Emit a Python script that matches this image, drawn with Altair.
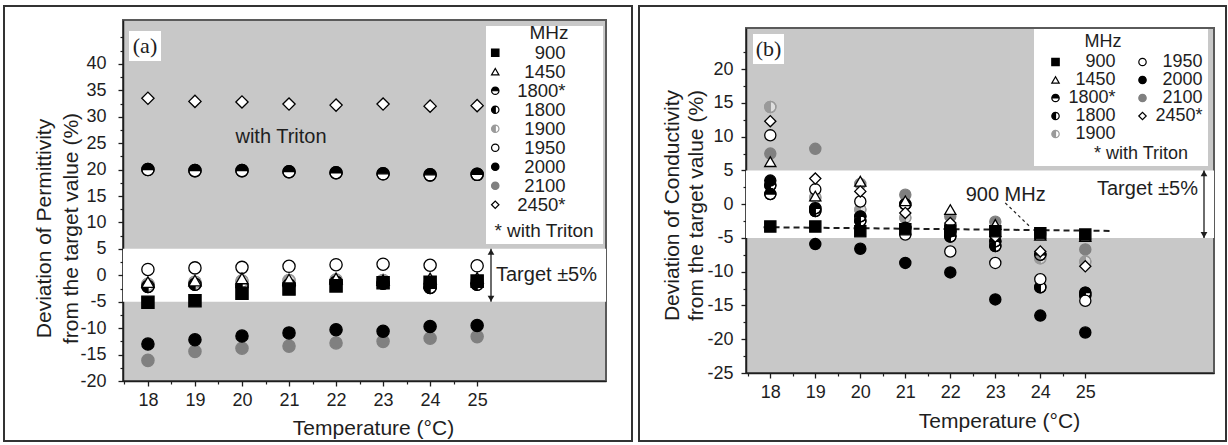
import altair as alt
import pandas as pd

FONT = "Liberation Sans"
SERIF = "Liberation Serif"
INK = "#1e1e1e"

temps = [18, 19, 20, 21, 22, 23, 24, 25]
freqs = ["900", "1450", "1800*", "1800", "1900", "1950", "2000", "2100", "2450*"]
x_minor = [17.5, 18.5, 19.5, 20.5, 21.5, 22.5, 23.5, 24.5]

# (a) deviation of permittivity from the target value (%)
perm_900 = [-5.1, -4.8, -3.4, -2.6, -2.0, -1.4, -1.3, -1.1]
perm_1450 = [-1.3, -1.0, -0.6, -0.8, -0.6, -0.9, -0.6, -0.5]
perm_1800s = [20.0, 19.8, 19.8, 19.6, 19.4, 19.2, 19.0, 19.1]
perm_1800 = [-2.1, -1.7, -2.0, -1.8, -1.3, -1.5, -2.3, -1.7]
perm_1900 = [-1.7, -1.3, -1.1, -1.0, -0.9, -1.0, -1.4, -1.2]
perm_1950 = [1.1, 1.4, 1.5, 1.7, 2.0, 2.1, 1.9, 1.8]
perm_2000 = [-13.0, -12.2, -11.5, -10.9, -10.3, -10.6, -9.7, -9.5]
perm_2100 = [-16.1, -14.4, -13.8, -13.4, -12.8, -12.5, -11.9, -11.6]
perm_2450s = [33.5, 32.9, 32.8, 32.4, 32.2, 32.4, 32.0, 32.1]

# (b) deviation of conductivity from the target value (%)
cond_900 = [-3.3, -3.3, -4.0, -3.7, -3.9, -4.0, -4.3, -4.5]
cond_1450 = [6.3, 1.2, 3.4, 0.5, -0.8, -3.0, -4.6, -4.8]
cond_1800s = [1.5, -0.6, -1.8, 0.0, -4.0, -5.5, -7.5, -13.1]
cond_1800 = [2.8, -1.0, -2.5, -3.5, -4.8, -6.2, -12.3, -13.5]
cond_1900 = [14.4, 1.0, -0.8, -2.0, -3.2, -3.5, -8.0, -8.5]
cond_1950 = [10.2, 2.2, 0.4, -4.5, -7.0, -8.7, -11.1, -14.3]
cond_2000 = [3.5, -5.9, -6.6, -8.7, -10.1, -14.1, -16.5, -19.0]
cond_2100 = [7.5, 8.2, 3.0, 1.4, -1.8, -2.6, -4.4, -6.7]
cond_2450s = [12.3, 3.8, 1.9, -1.3, -2.8, -4.8, -7.0, -9.2]

# 900 MHz trend line in (b) and its label leader
fit_x = [17.85, 25.55]
fit_y = [-3.4, -3.95]
lead_x = [23.22, 23.75]
lead_y = [0.2, -3.2]

perm = dict(zip(freqs, [perm_900, perm_1450, perm_1800s, perm_1800, perm_1900,
                        perm_1950, perm_2000, perm_2100, perm_2450s]))
cond = dict(zip(freqs, [cond_900, cond_1450, cond_1800s, cond_1800, cond_1900,
                        cond_1950, cond_2000, cond_2100, cond_2450s]))

HALF_TOP = "M -1 0 A 1 1 0 0 1 1 0 Z M 1 0 A 1 1 0 0 1 -1 0 A 1 1 0 0 0 1 0"
HALF_LEFT = "M 0 -1 A 1 1 0 0 0 0 1 Z M 0 1 A 1 1 0 0 0 0 -1 A 1 1 0 0 1 0 1"
shape_of = {"900": "square", "1450": "triangle-up", "1800*": HALF_TOP, "1800": HALF_LEFT,
            "1900": HALF_LEFT, "1950": "circle", "2000": "circle", "2100": "circle",
            "2450*": "diamond"}
fill_of = {"900": "black", "1450": "white", "1800*": "black", "1800": "black",
           "1900": "#9a9a9a", "1950": "white", "2000": "black", "2100": "#808080",
           "2450*": "white"}
stroke_of = {"900": "black", "1450": "black", "1800*": "black", "1800": "black",
             "1900": "#9a9a9a", "1950": "black", "2000": "black", "2100": "#808080",
             "2450*": "black"}
base_of = {"1800*": ("white", "black"), "1800": ("white", "black"),
           "1900": ("#dedede", "#9a9a9a")}
draw_order = ["2100", "2000", "1900", "1800", "1800*", "1950", "1450", "2450*", "900"]


def long_df(series, tag):
    rows = []
    for f in draw_order:
        for t, v in zip(temps, series[f]):
            rows.append({"temp": t, "value": v, tag: f})
    return pd.DataFrame(rows)


def base_df(series):
    rows = []
    for f in ["1900", "1800", "1800*"]:
        for t, v in zip(temps, series[f]):
            rows.append({"temp": t, "value": v, "bf": base_of[f][0], "bs": base_of[f][1]})
    return pd.DataFrame(rows)


def panel(series, P):
    xs = alt.Scale(domain=P["xdom"], nice=False, zero=False)
    ys = alt.Scale(domain=P["ydom"], nice=False, zero=False)
    W, H = P["w"], P["h"]
    one = pd.DataFrame({"k": [0]})
    fs = P["fs"]

    fx0, fx1, fy0, fy1 = P["frame"]
    frame = alt.Chart(one).mark_rect(fillOpacity=0, stroke="#333333", strokeWidth=2).encode(
        x=alt.value(fx0), x2=alt.value(fx1), y=alt.value(fy0), y2=alt.value(fy1))

    band = alt.Chart(pd.DataFrame({"lo": [-5], "hi": [5]})).mark_rect(color="white").encode(
        x=alt.value(0), x2=alt.value(W),
        y=alt.Y("lo:Q", scale=ys, axis=None), y2="hi:Q")

    bx0, bx1, by0, by1 = P["legbox"]
    legbox = alt.Chart(one).mark_rect(color="white").encode(
        x=alt.value(bx0), x2=alt.value(bx1), y=alt.value(by0), y2=alt.value(by1))

    lx0, lx1, ly0, ly1 = P["tagbox"]
    tagbox = alt.Chart(one).mark_rect(color="white").encode(
        x=alt.value(lx0), x2=alt.value(lx1), y=alt.value(ly0), y2=alt.value(ly1))
    tag = alt.Chart(one).mark_text(text=P["tag"], font=SERIF, fontSize=22, color=INK).encode(
        x=alt.value((lx0 + lx1) / 2), y=alt.value((ly0 + ly1) / 2))

    mhz = alt.Chart(one).mark_text(text="MHz", font=FONT, fontSize=fs, color=INK).encode(
        x=alt.value(P["mhz"][0]), y=alt.value(P["mhz"][1]))
    trit = alt.Chart(one).mark_text(text="* with Triton", font=FONT, fontSize=fs, color=INK).encode(
        x=alt.value(P["trit"][0]), y=alt.value(P["trit"][1]))

    ax = P["arrow_x"]
    arr_df = pd.DataFrame({"lo": [-5], "hi": [5]})
    arrow = alt.Chart(arr_df).mark_rule(color=INK, strokeWidth=1.3).encode(
        x=alt.value(ax), y=alt.Y("lo:Q", scale=ys, axis=None), y2="hi:Q")
    head_up = alt.Chart(pd.DataFrame({"v": [5]})).mark_point(
        shape="triangle-up", filled=True, color=INK, size=45, yOffset=3, opacity=1).encode(
        x=alt.value(ax), y=alt.Y("v:Q", scale=ys, axis=None))
    head_dn = alt.Chart(pd.DataFrame({"v": [-5]})).mark_point(
        shape="triangle-down", filled=True, color=INK, size=45, yOffset=-3, opacity=1).encode(
        x=alt.value(ax), y=alt.Y("v:Q", scale=ys, axis=None))
    tx, ty, talign = P["target"]
    target = alt.Chart(pd.DataFrame({"v": [ty]})).mark_text(
        text="Target \u00b15%", font=FONT, fontSize=20, color=INK, align=talign).encode(
        x=alt.value(tx), y=alt.Y("v:Q", scale=ys, axis=None))

    ann_layers = []
    for (txt, axv, ayv) in P["notes"]:
        ann_layers.append(alt.Chart(pd.DataFrame({"x": [axv], "y": [ayv]})).mark_text(
            text=txt, font=FONT, fontSize=20, color=INK).encode(
            x=alt.X("x:Q", scale=xs, axis=None), y=alt.Y("y:Q", scale=ys, axis=None)))

    line_layers = []
    for (lxs, lys, dash, sw) in P["lines"]:
        line_layers.append(alt.Chart(pd.DataFrame({"x": lxs, "y": lys})).mark_line(
            color=INK, strokeDash=dash, strokeWidth=sw).encode(
            x=alt.X("x:Q", scale=xs, axis=None), y=alt.Y("y:Q", scale=ys, axis=None)))

    under = alt.Chart(base_df(series)).mark_point(
        shape="circle", filled=True, opacity=1, size=P["size"], strokeWidth=1.3).encode(
        x=alt.X("temp:Q", scale=xs, axis=None),
        y=alt.Y("value:Q", scale=ys, axis=None),
        fill=alt.Fill("bf:N", scale=None),
        stroke=alt.Stroke("bs:N", scale=None))

    order = freqs
    fld = P["field"]
    leg = alt.Legend(orient="none", legendX=P["legX"], legendY=P["legY"], title=None,
                     columns=P["cols"], columnPadding=P["colpad"], rowPadding=P["rowpad"],
                     labelAlign="right", labelOffset=P["laboff"], labelFont=FONT,
                     labelFontSize=P["lfs"], labelColor=INK, symbolSize=55,
                     symbolStrokeWidth=1.2, symbolOpacity=1, padding=0)
    sc_shape = alt.Scale(domain=order, range=[shape_of[f] for f in order])
    sc_fill = alt.Scale(domain=order, range=[fill_of[f] for f in order])
    sc_stroke = alt.Scale(domain=order, range=[stroke_of[f] for f in order])

    axis_common = dict(grid=False, domainColor=INK, domainWidth=1.5, tickColor=INK,
                       tickWidth=1.3, labelFont=FONT, labelFontSize=18, labelColor=INK,
                       titleFont=FONT, titleFontSize=21, titleColor=INK,
                       titleFontWeight="normal", labelExpr="'' + datum.value")
    xaxis = alt.Axis(values=temps, orient="bottom", tickSize=5, labelPadding=5,
                     title="Temperature (\u00b0C)", titleX=P["xtitle"][0], titleY=P["xtitle"][1],
                     titleBaseline="middle", titleAlign="center", **axis_common)
    yaxis = alt.Axis(values=P["yvals"], orient="left", tickSize=5, labelPadding=P["ylabpad"],
                     title=P["ytitle"], titleX=P["ytitle_pos"][0], titleY=P["ytitle_pos"][1],
                     titleAngle=-90, titleBaseline="middle", titleAlign="center",
                     titleLineHeight=P["ytitle_lh"], **axis_common)
    pts = alt.Chart(long_df(series, fld)).mark_point(
        filled=True, opacity=1, size=P["size"], strokeWidth=1.3).encode(
        x=alt.X("temp:Q", scale=xs, axis=xaxis),
        y=alt.Y("value:Q", scale=ys, axis=yaxis),
        shape=alt.Shape(f"{fld}:N", scale=sc_shape, legend=leg),
        fill=alt.Fill(f"{fld}:N", scale=sc_fill, legend=leg),
        stroke=alt.Stroke(f"{fld}:N", scale=sc_stroke, legend=leg))

    minor_common = dict(grid=False, domain=False, labels=False, title=None,
                        tickColor=INK, tickWidth=1.2, tickSize=3)
    minor = alt.Chart(pd.DataFrame({"x": x_minor, "y": P["yminor"][:len(x_minor)]})).mark_point(
        opacity=0).encode(
        x=alt.X("x:Q", scale=xs, axis=alt.Axis(values=x_minor, orient="bottom", **minor_common)),
        y=alt.Y("y:Q", scale=ys, axis=alt.Axis(values=P["yminor"], orient="left", **minor_common)))

    layers = [frame, band, legbox, tagbox, tag, mhz, trit, arrow, head_up, head_dn, target]
    layers += ann_layers + line_layers + [under, pts, minor]
    return alt.layer(*layers).resolve_axis(x="independent", y="independent").properties(
        width=W, height=H)


yvals_a = list(range(-20, 45, 5))
yminor_a = [-17.5 + 5 * i for i in range(13)] + [45]
yvals_b = list(range(-25, 25, 5))
yminor_b = [-22.5 + 5 * i for i in range(10)]

PA = dict(xdom=[17.47, 27.74], ydom=[-20, 48.3], w=483, h=361, fs=19, lfs=18.5, field="fa",
          frame=[-119, 509, -14, 421], legbox=[363, 480, 6, 224], tagbox=[6, 38, 11, 41],
          tag="(a)", mhz=[426, 13], trit=[421, 211], arrow_x=368,
          target=[373, 0, "left"], notes=[("with Triton", 20.83, 26.1)], lines=[],
          size=150, legX=363, legY=23.5, cols=1, colpad=10, rowpad=0,
          laboff=61, xtitle=[250, 47], yvals=yvals_a, yminor=yminor_a, ylabpad=12,
          ytitle=["Deviation of Permittivity", "from the target value  (%)"],
          ytitle_pos=[-79, 208], ytitle_lh=27)

PB = dict(xdom=[17.46, 27.86], ydom=[-25, 26.1], w=468, h=345, fs=18, lfs=18, field="fb",
          frame=[-107, 480, -22, 413], legbox=[288, 462, 1, 138], tagbox=[7, 38, 6, 36],
          tag="(b)", mhz=[357, 14], trit=[395, 126], arrow_x=458,
          target=[452, 2.3, "right"], notes=[("900 MHz", 23.23, 1.43)],
          lines=[(fit_x, fit_y, [6, 4], 2), (lead_x, lead_y, [3, 3], 1.2)],
          size=125, legX=300.5, legY=25, cols=2, colpad=18, rowpad=0,
          laboff=51, xtitle=[253, 48], yvals=yvals_b, yminor=yminor_b, ylabpad=8,
          ytitle=["Deviation of Conductivity", "from the target value (%)"],
          ytitle_pos=[-74, 177], ytitle_lh=24)

chart = alt.hconcat(panel(perm, PA), panel(cond, PB), spacing=140, bounds="flush",
                    center=True).resolve_scale(
    shape="independent", fill="independent", stroke="independent").resolve_legend(
    shape="independent", fill="independent", stroke="independent").configure_view(
    fill="#c8c8c8", stroke="#5a5a5a", strokeWidth=2).properties(
    padding={"left": 2, "top": 4, "right": 0, "bottom": 0}, background="white")

chart.save("out.html", embed_options={"renderer": "svg", "actions": False})
